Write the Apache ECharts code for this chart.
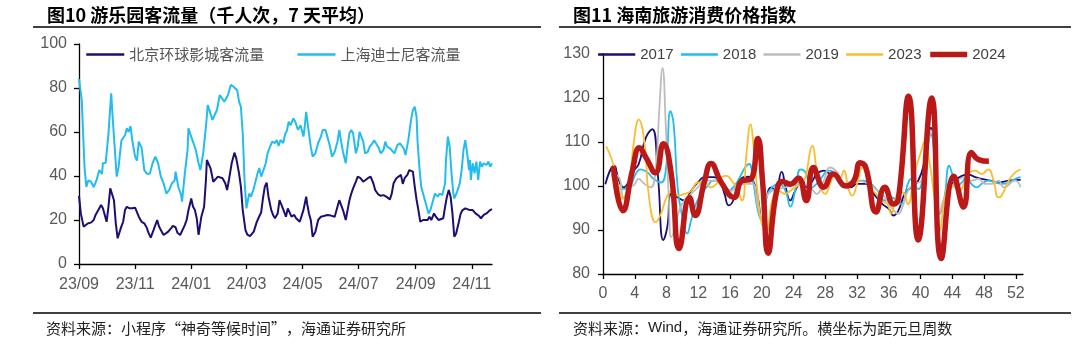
<!DOCTYPE html>
<html><head><meta charset="utf-8">
<script src="https://cdn.jsdelivr.net/npm/echarts@6/dist/echarts.min.js"></script>
<style>html,body{margin:0;padding:0;background:#fff}#c{width:1086px;height:349px}</style>
</head><body><div id="c"></div>
<script>
// ---------- Left chart: 游乐园客流量 (千人次, 7天平均) ----------
const leftStartDate = [2023, 9, 1];           // day 0 of the x scale
const leftEndDay = 449;                       // last day shown
const leftTickDates = [[2023,9,1],[2023,11,1],[2024,1,1],[2024,3,1],[2024,5,1],[2024,7,1],[2024,9,1],[2024,11,1]];
const leftTickLabels = ['23/09','23/11','24/01','24/03','24/05','24/07','24/09','24/11'];
const leftYTicks = [0, 20, 40, 60, 80, 100];
const leftSeriesNames = ['北京环球影城客流量', '上海迪士尼客流量'];

// days since 2023-09-01 and values (千人次)
const bjDays = [0,2,5,7,10,13,16,18,21,24,26,28,30,32,34,36,38,40,42,44,46,48,50,52,55,58,61,63,65,68,71,74,75,78,81,83,85,87,90,92,94,97,100,102,105,107,110,112,115,117,119,121,122,124,126,128,130,131,133,136,138,139,141,143,146,148,151,153,156,159,161,163,166,169,171,174,176,178,181,183,186,188,190,193,195,198,200,202,204,206,209,211,213,216,217,218,221,223,225,227,229,231,234,236,238,240,242,244,247,248,250,252,254,257,260,263,266,270,274,278,281,283,285,287,290,292,294,296,298,301,303,306,309,311,314,317,320,322,325,328,331,334,338,340,342,345,347,350,352,354,357,359,361,363,365,367,369,371,374,376,379,381,383,386,388,391,393,396,398,400,402,404,406,408,410,413,415,417,420,422,425,426,428,431,433,435,437,440,443,445,447,449];
const bjVals = [31,23,17,16.2,18.5,18.8,20,22.3,24.5,26.8,25.3,24.5,19.2,26,34.4,35.2,29,18.5,11.7,11.2,17,19.2,24.5,26,25.3,25.3,25.6,25.3,21.5,19.2,18.5,16.2,14.7,12,15.4,17.7,20,17,14.7,13.2,14,14.7,16.2,17.3,16.7,14.2,13.2,12.7,17.7,20,24.5,27.8,29.8,26,24.5,20.8,13.2,13.2,21.5,26,38.2,47.3,48,43.5,37.4,38.2,39.7,40,39,36.7,33.6,38.2,45.8,50.6,48,41.2,35.2,24.5,15.4,13.4,12.7,12,14.7,18.8,20.8,23.4,29.8,35.2,37,30.6,24.5,22.3,20.8,23,26,29,26,26,21.5,25.3,24.8,21.5,22.3,20.8,21.5,19.2,18.8,24.5,30.6,27.5,23,20,12.4,14.7,20,21.5,21.8,22.3,22,21.5,26,29,29.8,24.5,20,24.5,29,32,34.4,37.4,39.7,39,37.4,37,39,39.7,36.7,33.6,31.8,31,31.3,30.6,29.4,32,36.7,39,39.7,40.5,36.4,39,40.5,42.7,43.5,42,35.2,29.2,24.5,19.2,20,19.2,20,21.5,20,23,21.5,20,19.2,20.8,26,30.6,33.6,30.6,23,12.4,13.9,19.2,23,24.5,25.3,26,24.5,23.7,24.5,23,23,21.8,20.8,22.3,23,23.4,24.5,25];

const shDays = [0,3,6,8,10,13,16,19,22,25,26,29,32,35,37,41,43,46,50,52,54,56,58,61,63,65,68,71,74,77,80,83,84,86,89,92,95,98,101,104,105,108,111,112,115,118,119,122,124,127,130,132,135,138,140,142,145,147,150,153,155,158,160,162,165,168,169,172,174,176,178,180,182,185,187,189,191,194,196,198,200,203,205,207,210,213,215,217,219,222,224,226,228,230,233,235,237,238,241,244,245,247,249,252,254,257,260,263,265,268,270,273,275,278,281,283,285,287,290,292,294,296,298,301,303,305,307,309,311,314,316,319,321,323,326,328,331,333,335,338,340,343,346,349,351,353,355,358,361,363,365,367,368,370,372,375,378,380,382,385,387,390,392,395,398,399,401,403,405,407,408,411,414,416,418,420,422,424,425,426,428,430,432,434,436,438,440,443,445,447,449];
const shVals = [84,74.5,44,35,38,37.4,35,38,42.7,41,45.8,46,59,77.6,64,39.7,44,56,58.5,61.7,60,62.7,56,48.8,47,55.6,53,42.7,41,41,45.8,48.8,49.5,45.8,39.7,36.6,32,33.6,36.6,38,42,35,31.4,28.3,41,51.8,61.7,57.9,57,51.8,45.8,42.7,50.3,62.4,72.3,72.3,65.5,64.8,70,76.8,76,73.8,74.5,76.8,81.4,80.6,80.6,79,73.8,71.5,59.4,38,25.3,32,30.6,33,36,41,43.6,39.7,42,45.8,50.3,52.6,55.6,55,56.4,53.6,56.4,55,59,60.6,64.7,63,66.2,64.8,65.5,61,63,57.9,61,69.2,62.4,53.3,48.8,50.3,55,57.9,60.9,60.9,57.9,53.3,48.8,51,55.6,60.9,55.6,51,45.8,53.3,59.4,60.9,59.4,50.3,53.3,60.1,60.1,55.6,50.3,51,53.3,54.8,56.3,55.6,52.6,50.3,51.8,55.6,53.3,52.6,53.3,50.3,54,54.8,54,52.6,49.5,56.3,65.5,70,71.5,66.9,56.3,44.2,35.2,30.6,26,23,24.5,29,32,30.6,32,31.3,36.7,47.3,57.9,53.3,41.2,32,29.8,32.8,36.7,42.7,51.8,56.3,50.3,42.7,47.3,38.2,45.8,41.2,46.5,38.2,46.5,44.2,45.8,45,46.5,44.2,45.8];

// ---------- Right chart: 海南旅游消费价格指数 ----------
const rightWeekTicks = [0,4,8,12,16,20,24,28,32,36,40,44,48,52];
const rightYTicks = [80, 90, 100, 110, 120, 130];
const rightSeriesNames = ['2017','2018','2019','2023','2024'];
// [weeks from New Year, index]
const y2017 = [[0.3,100.4],[1.4,104.6],[2,101.2],[2.6,99.7],[3.3,101.2],[3.9,103.5],[4.5,105],[5.4,111],[6.2,112.9],[6.9,102.7],[7.6,87.7],[8.1,90.7],[8.6,98.2],[9.4,97.4],[10.25,96.7],[11.1,98.9],[11.95,100.8],[12.8,102],[13.9,102],[14.7,101.2],[15.3,98.2],[15.85,95.6],[16.4,96.7],[17,100.5],[17.7,102],[18.3,102.1],[18.9,101.2],[19.5,97.4],[20,92.2],[20.6,97.4],[21.2,99.7],[21.7,98.9],[22.5,103.2],[23,99.7],[23.6,96.7],[24.2,98.9],[25.1,101.2],[25.7,99.7],[26.4,101.2],[26.9,102.7],[27.8,103.5],[28.6,102.7],[29.5,102],[30.3,100.5],[31.2,99.7],[32,100.5],[33.1,100.5],[34.1,98.2],[35.2,95.9],[36,94.8],[36.6,93.3],[37.2,94.4],[38,98.2],[38.8,99.7],[39.7,101.2],[40.5,105.7],[41.3,113.2],[41.8,106.5],[42.4,93.7],[43,96.7],[43.7,99.7],[44.3,101.2],[45.2,102.3],[46,102.6],[46.9,102],[47.7,101.6],[48.8,101.2],[49.8,100.8],[51.1,101.2],[52.6,101.4]];
const y2018 = [[1.1,102.7],[2.4,99.3],[3.3,99.7],[4.1,102.7],[4.7,103.8],[5.6,103.1],[6.4,101.6],[7.3,100.8],[7.9,103.5],[8.5,117],[8.9,114],[9.4,99.7],[10,92.9],[10.6,89.2],[11.1,92.2],[11.7,95.9],[12.4,98.2],[13.2,100.1],[13.9,101.2],[14.5,101.2],[15.1,100.1],[15.8,98.9],[16.4,99.7],[17,101.2],[17.9,104.2],[18.4,105],[18.9,101.2],[19.5,94.4],[20,92.2],[20.6,97.4],[21.3,99.7],[22.1,100.5],[22.97,98.9],[23.6,95.3],[24.2,98.9],[24.9,103.8],[25.5,103.1],[26.2,99.5],[26.9,100.5],[28.6,103.5],[29.5,101.6],[30.3,99.7],[31.2,100.8],[32,101.2],[32.8,101.2],[33.7,100.5],[34.6,98.9],[35.5,96.7],[36.3,97.4],[37.5,95.9],[38.4,100.5],[38.8,101.6],[39.7,99.3],[40.5,104.2],[41.3,111.7],[41.8,105.7],[42.4,93.7],[43,97.4],[43.6,104.6],[44,102.7],[44.5,99.7],[45.2,100.8],[45.8,102],[46.4,100.5],[47.1,99.7],[47.7,100.5],[48.6,101.2],[49.4,100.8],[50.2,100.5],[51.1,100.8],[51.9,101.6],[52.6,102]];
const y2019 = [[1.1,102.7],[2,102],[2.6,97.4],[3.3,99.7],[3.9,100.2],[4.5,101.6],[5.2,100.5],[6,99.7],[6.65,104.2],[7.1,117.7],[7.5,126.8],[7.9,114],[8.3,96.7],[8.6,88.4],[9.1,90.7],[9.6,94.4],[10.25,96.7],[11.1,98.2],[11.95,99.7],[12.8,101.2],[14.5,101.2],[16.2,98.9],[17,100.1],[17.9,100.5],[18.8,100.5],[19.5,95.2],[20,92.2],[20.6,97.4],[21.3,98.9],[22.97,99.7],[24.7,100.5],[26.1,99.7],[26.9,98.2],[27.8,101.2],[28.6,104.2],[29.5,103.1],[30.3,100.5],[32,101.2],[33.7,100.2],[34.6,98.9],[35.5,97.4],[36.3,95.2],[37.2,93.7],[37.7,95.2],[38.4,98.9],[39.2,100.5],[40.1,101.2],[41,110.2],[41.4,112.5],[41.8,108],[42.4,93.7],[43,97.4],[43.9,99.7],[44.7,101.2],[45.6,102],[46.4,101.2],[47.3,101.6],[48.1,100.5],[49,100.5],[49.8,101.2],[50.5,99.7],[51.9,101.2],[52.6,99.7]];
const y2023 = [[0.4,109],[1.1,106.1],[1.8,101.2],[2.5,97.1],[3.3,101.2],[3.9,110.2],[4.5,115.1],[5.2,110.2],[5.8,97.4],[6.65,91.8],[7.3,93.7],[8.1,97.8],[8.8,98.9],[9.4,97.8],[10.25,98.2],[11.1,98.9],[11.95,100.8],[12.8,100.8],[13.6,99.7],[14.3,100.5],[14.9,102],[15.6,102.3],[16.2,101.2],[16.8,99.7],[17.5,96.7],[18.1,108],[18.6,114],[18.9,110.2],[19.4,99.7],[20,91.4],[20.6,89.9],[21.3,96.7],[22.1,98.9],[22.97,98.2],[23.6,98.9],[24.2,99.7],[24.9,100.5],[25.5,102],[26.1,108],[26.4,109.1],[26.8,105],[27.4,99.7],[28,98.2],[28.6,100.5],[29.3,102.7],[29.9,102],[30.3,103.5],[31,98.9],[31.4,97.8],[32,100.5],[32.7,104.2],[33.1,103.1],[33.7,99.7],[34.4,98.2],[35,96.7],[35.8,95.9],[36.3,93.7],[36.8,96.7],[37.3,98.6],[37.8,98.5],[38.4,95.9],[39.2,102.7],[40.1,108],[40.5,110.2],[41.1,105.7],[41.8,96.7],[42.4,89.9],[43,96.7],[43.7,100.5],[44.3,99.7],[44.9,98.9],[45.6,101.2],[46.2,103.1],[46.9,103.5],[47.7,102.7],[48.5,103.8],[49.2,101.2],[49.8,97.4],[50.2,97.8],[50.9,100.5],[51.7,102.7],[52.6,103.8]];
const y2024 = [[1.3,104.5],[2.5,94.4],[3.7,103.5],[4.6,108.7],[5.4,106.5],[6.6,103],[7.6,109.6],[8.6,102.7],[9.6,85.8],[10.9,97.4],[11.6,93.3],[12.8,101.2],[13.6,105.1],[14.9,100.8],[16.5,97.4],[17.5,101.2],[18.6,101.5],[19.5,110.8],[20.1,101],[20.8,84.7],[21.8,98.2],[22.6,101],[23.6,100.4],[24.6,101.8],[25.6,96.7],[26.5,104.2],[27.8,99.7],[29,102.7],[30.6,100],[31.6,101.2],[32.4,105.3],[33.1,104.2],[34.4,94.1],[35.5,99.7],[36.6,95.9],[37.2,97],[38.5,120.4],[39.7,87.7],[41.4,120],[42.6,83.5],[44.2,102.2],[45.4,95.2],[46.4,107.6],[47.3,106],[48.6,105.6]];

// ---------- build ----------
const dayOf = (d) => (Date.UTC(d[0], d[1]-1, d[2]) - Date.UTC(leftStartDate[0], leftStartDate[1]-1, leftStartDate[2])) / 864e5;
const leftTickDays = leftTickDates.map(dayOf);
const labelForDay = {};
leftTickDays.forEach((d, i) => { labelForDay[d] = leftTickLabels[i]; });

const AX = '#000';
const LBL = { color: '#595959', fontSize: 16, fontFamily: '"Liberation Sans", Arial, sans-serif' };
const CJK = '"Noto Sans CJK SC", sans-serif';

const chart = echarts.init(document.getElementById('c'), null, { renderer: 'canvas' });
chart.setOption({
  animation: false,
  backgroundColor: '#fff',
  grid: [
    { left: 79, top: 44, width: 413, height: 220, containLabel: false },
    { left: 603, top: 54, width: 420, height: 220, containLabel: false }
  ],
  xAxis: [
    { type: 'value', gridIndex: 0, min: 0, max: leftEndDay,
      axisLine: { lineStyle: { color: AX, width: 1.3 } },
      axisTick: { show: true, length: 5, lineStyle: { color: AX, width: 1.3 }, customValues: leftTickDays },
      axisLabel: Object.assign({ margin: 13, customValues: leftTickDays, formatter: (v) => labelForDay[Math.round(v)] || '' }, LBL),
      splitLine: { show: false } },
    { type: 'value', gridIndex: 1, min: 0, max: 52.9,
      axisLine: { lineStyle: { color: AX, width: 1.3 } },
      axisTick: { show: true, length: 5, lineStyle: { color: AX, width: 1.3 }, customValues: rightWeekTicks },
      axisLabel: Object.assign({ margin: 12, customValues: rightWeekTicks }, LBL),
      splitLine: { show: false } }
  ],
  yAxis: [
    { type: 'value', gridIndex: 0, min: leftYTicks[0], max: leftYTicks[leftYTicks.length-1], interval: 20,
      axisLine: { show: true, lineStyle: { color: AX, width: 1.3 } },
      axisTick: { show: true, length: 5, lineStyle: { color: AX, width: 1.3 } },
      axisLabel: Object.assign({ margin: 12 }, LBL),
      splitLine: { show: false } },
    { type: 'value', gridIndex: 1, min: rightYTicks[0], max: rightYTicks[rightYTicks.length-1], interval: 10,
      axisLine: { show: true, lineStyle: { color: AX, width: 1.3 } },
      axisTick: { show: true, length: 5, lineStyle: { color: AX, width: 1.3 } },
      axisLabel: Object.assign({ margin: 13 }, LBL),
      splitLine: { show: false } }
  ],
  legend: [
    { left: 85, top: 47, padding: 0, itemWidth: 38, itemHeight: 14, itemGap: 32,
      data: leftSeriesNames, itemStyle: { opacity: 0 }, lineStyle: { width: 2.5 },
      textStyle: { color: '#555', fontSize: 15, fontFamily: CJK } },
    { left: 597, top: 47, padding: 0, itemWidth: 37, itemHeight: 14, itemGap: 6,
      data: rightSeriesNames.map((n) => ({ name: n, lineStyle: { width: n === '2024' ? 5.5 : 2.5 } })),
      itemStyle: { opacity: 0 },
      textStyle: { color: '#404040', fontSize: 15, fontFamily: '"Liberation Sans", Arial, sans-serif' } }
  ],
  series: [
    { name: leftSeriesNames[0], type: 'line', xAxisIndex: 0, yAxisIndex: 0, symbol: 'none',
      data: bjDays.map((d, i) => [d, bjVals[i]]),
      lineStyle: { color: '#1c0f6f', width: 2 }, itemStyle: { color: '#1c0f6f' } },
    { name: leftSeriesNames[1], type: 'line', xAxisIndex: 0, yAxisIndex: 0, symbol: 'none',
      data: shDays.map((d, i) => [d, shVals[i]]),
      lineStyle: { color: '#22bcef', width: 2 }, itemStyle: { color: '#22bcef' } },
    { name: '2017', type: 'line', xAxisIndex: 1, yAxisIndex: 1, symbol: 'none', smooth: 0.5, data: y2017,
      lineStyle: { color: '#1c0f6f', width: 1.8 }, itemStyle: { color: '#1c0f6f' } },
    { name: '2018', type: 'line', xAxisIndex: 1, yAxisIndex: 1, symbol: 'none', smooth: 0.5, data: y2018,
      lineStyle: { color: '#22bcef', width: 1.8 }, itemStyle: { color: '#22bcef' } },
    { name: '2019', type: 'line', xAxisIndex: 1, yAxisIndex: 1, symbol: 'none', smooth: 0.5, data: y2019,
      lineStyle: { color: '#bcbcbc', width: 1.8 }, itemStyle: { color: '#bcbcbc' } },
    { name: '2023', type: 'line', xAxisIndex: 1, yAxisIndex: 1, symbol: 'none', smooth: 0.5, data: y2023,
      lineStyle: { color: '#fbbd30', width: 1.8 }, itemStyle: { color: '#fbbd30' } },
    { name: '2024', type: 'line', xAxisIndex: 1, yAxisIndex: 1, symbol: 'none', smooth: 0.5, data: y2024,
      lineStyle: { color: '#bb1818', width: 5.5 }, itemStyle: { color: '#bb1818' } }
  ],
  graphic: [
    { type: 'text', x: 47, y: 15, style: { text: '图10 游乐园客流量（千人次，7 天平均）', fontSize: 18, fontWeight: 'bold', fontFamily: CJK, fill: '#000', verticalAlign: 'middle' } },
    { type: 'text', x: 573, y: 15, style: { text: '图11 海南旅游消费价格指数', fontSize: 18, fontWeight: 'bold', fontFamily: CJK, fill: '#000', verticalAlign: 'middle' } },
    { type: 'line', shape: { x1: 33, y1: 27, x2: 541, y2: 27 }, style: { stroke: '#000', lineWidth: 1.3 } },
    { type: 'line', shape: { x1: 559, y1: 27, x2: 1071, y2: 27 }, style: { stroke: '#000', lineWidth: 1.3 } },
    { type: 'line', shape: { x1: 33, y1: 313, x2: 541, y2: 313 }, style: { stroke: '#000', lineWidth: 1.3 } },
    { type: 'line', shape: { x1: 559, y1: 313, x2: 1071, y2: 313 }, style: { stroke: '#000', lineWidth: 1.3 } },
    { type: 'text', x: 46, y: 328, style: { text: '资料来源：小程序“神奇等候时间”，海通证券研究所', fontSize: 15, fontFamily: CJK, fill: '#222', verticalAlign: 'middle' } },
    { type: 'text', x: 573, y: 328, style: { rich: {
        c: { fontSize: 15, fontFamily: CJK, fill: '#222' },
        l: { fontSize: 15, fontFamily: '"Liberation Sans", Arial, sans-serif', fill: '#222' } },
      text: '{c|资料来源：}{l|Wind}{c|，海通证券研究所。横坐标为距元旦周数}', verticalAlign: 'middle' } }
  ]
});
</script>
</body></html>
